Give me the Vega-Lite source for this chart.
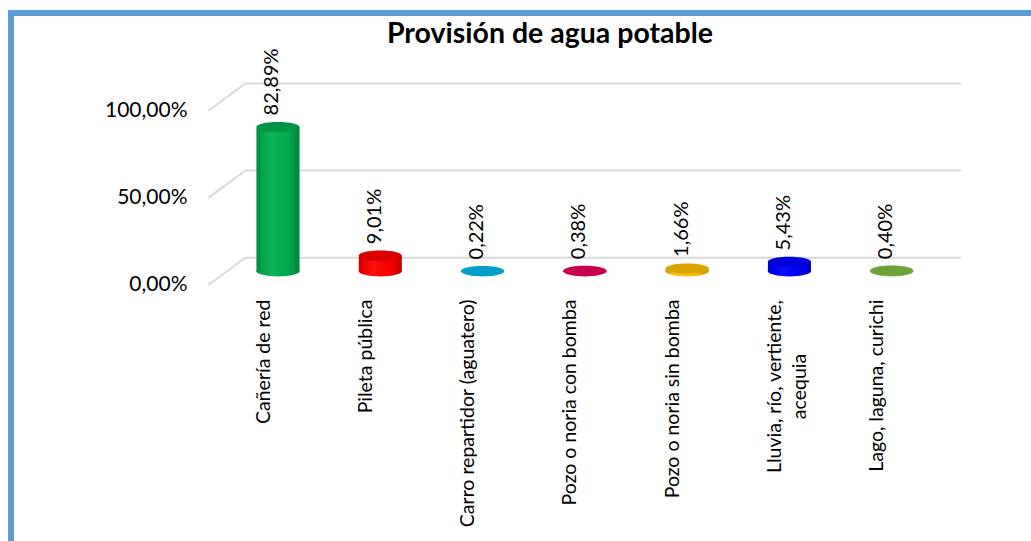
{
  "$schema": "https://vega.github.io/schema/vega-lite/v6.json",
  "width": 1020,
  "height": 528,
  "padding": {"left": 11, "top": 13, "right": 0, "bottom": 0},
  "autosize": {"type": "none"},
  "background": "white",
  "config": {
    "font": "Lato",
    "locale": {"number": {"decimal": ",", "thousands": ".", "grouping": [3], "currency": ["", " €"]}},
    "view": {"stroke": "#5B9BD5", "strokeWidth": 6, "strokeDash": [1020, 1548, 600], "strokeCap": "square"},
    "axisX": {"domain": false, "ticks": false, "grid": false, "labelAngle": 270, "labelBaseline": "middle", "labelFontSize": 19.5, "labelColor": "#000000", "labelOffset": -14.5, "offset": -242, "labelLimit": 0, "labelLineHeight": 25, "labelOverlap": false},
    "axisY": {"domain": false, "ticks": false, "grid": false, "labelFontSize": 21, "labelColor": "#000000", "labelPadding": 21, "labelOffset": 27.3, "offset": -197, "labelOverlap": false}
  },
  "title": {"text": "Provisión de agua potable", "fontSize": 28.5, "fontWeight": "bold", "font": "Lato", "color": "#000000", "anchor": "middle", "dx": 29, "baseline": "alphabetic", "offset": -58},
  "data": {"values": [
    {"cat": "Cañería de red", "v": 0.8289},
    {"cat": "Pileta pública", "v": 0.0901},
    {"cat": "Carro repartidor (aguatero)", "v": 0.0022},
    {"cat": "Pozo o noria con bomba", "v": 0.0038},
    {"cat": "Pozo o noria sin bomba", "v": 0.0166},
    {"cat": "Lluvia, río, vertiente, acequia", "v": 0.0543},
    {"cat": "Lago, laguna, curichi", "v": 0.0040}
  ]},
  "encoding": {
    "x": {"field": "cat", "type": "nominal", "sort": null, "title": null,
      "scale": {"type": "band", "domain": ["Cañería de red", "Pileta pública", "Carro repartidor (aguatero)", "Pozo o noria con bomba", "Pozo o noria sin bomba", "Lluvia, río, vertiente, acequia", "Lago, laguna, curichi"], "range": [215.86, 931.84], "paddingInner": 0.5796, "paddingOuter": 0.2898},
      "axis": {
        "labelExpr": "datum.value == 'Lluvia, río, vertiente, acequia' ? ['Lluvia, río, vertiente,', 'acequia'] : datum.label",
        "labelAlign": {"condition": {"test": "datum.value == 'Lluvia, río, vertiente, acequia'", "value": "center"}, "value": "right"},
        "labelPadding": {"condition": {"test": "datum.value == 'Lluvia, río, vertiente, acequia'", "value": 87}, "value": 0}
      }},
    "y": {"field": "v", "type": "quantitative", "title": null,
      "scale": {"domain": [-1.6263, 1.4047], "nice": false, "zero": false},
      "axis": {"values": [0, 0.5, 1], "format": ".2%"}}
  },
  "layer": [
    {
      "data": {"values": [{"g": 0}, {"g": 0.5}, {"g": 1}]},
      "mark": {"type": "rule", "color": "#D9D9D9", "strokeWidth": 2, "xOffset": -32.8, "x2Offset": 69.5},
      "encoding": {
        "x": {"datum": "Cañería de red", "type": "nominal", "bandPosition": 0.5},
        "x2": {"datum": "Lago, laguna, curichi"},
        "y": {"field": "g", "type": "quantitative", "title": null, "axis": {"values": [0, 0.5, 1], "format": ".2%"}}
      }
    },
    {
      "data": {"values": [{"g": 0}, {"g": 0.5}, {"g": 1}]},
      "mark": {"type": "rule", "color": "#D9D9D9", "strokeWidth": 2, "xOffset": -69.5, "x2Offset": -32.8, "yOffset": 27.3},
      "encoding": {
        "x": {"datum": "Cañería de red", "type": "nominal", "bandPosition": 0.5},
        "x2": {"datum": "Cañería de red"},
        "y": {"field": "g", "type": "quantitative", "title": null, "axis": {"values": [0, 0.5, 1], "format": ".2%"}},
        "y2": {"field": "g"}
      }
    },
    {
      "mark": {"type": "point", "shape": "M-1,0A1,0.235,0,1,0,1,0A1,0.235,0,1,0,-1,0Z", "size": 1849, "filled": true, "opacity": 1, "strokeWidth": 0, "yOffset": 13.65},
      "encoding": {
        "y": {"datum": 0, "type": "quantitative"},
        "color": {"field": "cat", "type": "nominal", "legend": null, "sort": null,
          "scale": {"domain": ["Cañería de red", "Pileta pública", "Carro repartidor (aguatero)", "Pozo o noria con bomba", "Pozo o noria sin bomba", "Lluvia, río, vertiente, acequia", "Lago, laguna, curichi"], "range": ["#00B050", "#FF0000", "#00BCEB", "#EB005D", "#FFC100", "#0000FF", "#84BF45"]}}
      }
    },
    {
      "mark": {"type": "point", "shape": "M-1,0A1,0.235,0,1,0,1,0A1,0.235,0,1,0,-1,0Z", "size": 1849, "filled": true, "opacity": 1, "strokeWidth": 0, "yOffset": 13.65,
        "fill": {"gradient": "linear", "x1": 0, "x2": 1, "y1": 0, "y2": 0, "stops": [
          {"offset": 0, "color": "rgba(0,0,0,0.22)"}, {"offset": 0.15, "color": "rgba(0,0,0,0.05)"}, {"offset": 0.35, "color": "rgba(255,255,255,0.06)"}, {"offset": 0.7, "color": "rgba(0,0,0,0.02)"}, {"offset": 1, "color": "rgba(0,0,0,0.25)"}]}},
      "encoding": {"y": {"datum": 0, "type": "quantitative"}}
    },
    {
      "mark": {"type": "bar", "yOffset": 13.65, "y2Offset": 13.65},
      "encoding": {
        "color": {"field": "cat", "type": "nominal", "legend": null, "sort": null}
      }
    },
    {
      "mark": {"type": "bar", "yOffset": 13.65, "y2Offset": 13.65,
        "fill": {"gradient": "linear", "x1": 0, "x2": 1, "y1": 0, "y2": 0, "stops": [
          {"offset": 0, "color": "rgba(0,0,0,0.22)"}, {"offset": 0.15, "color": "rgba(0,0,0,0.05)"}, {"offset": 0.35, "color": "rgba(255,255,255,0.06)"}, {"offset": 0.7, "color": "rgba(0,0,0,0.02)"}, {"offset": 1, "color": "rgba(0,0,0,0.25)"}]}},
      "encoding": {}
    },
    {
      "mark": {"type": "point", "shape": "M-1,0A1,0.235,0,1,0,1,0A1,0.235,0,1,0,-1,0Z", "size": 1849, "filled": true, "opacity": 1, "strokeWidth": 0, "yOffset": 13.65},
      "encoding": {
        "color": {"field": "cat", "type": "nominal", "legend": null, "sort": null}
      }
    },
    {
      "mark": {"type": "point", "shape": "M-1,0A1,0.235,0,1,0,1,0A1,0.235,0,1,0,-1,0Z", "size": 1849, "filled": true, "opacity": 0.15, "strokeWidth": 0, "yOffset": 13.65, "color": "#000000"},
      "encoding": {}
    },
    {
      "mark": {"type": "text", "angle": 270, "align": "left", "baseline": "middle", "fontSize": 20, "font": "Lato", "color": "#000000", "xOffset": -5.6, "yOffset": 2.15},
      "encoding": {
        "text": {"field": "v", "type": "quantitative", "format": ".2%"}
      }
    }
  ]
}
